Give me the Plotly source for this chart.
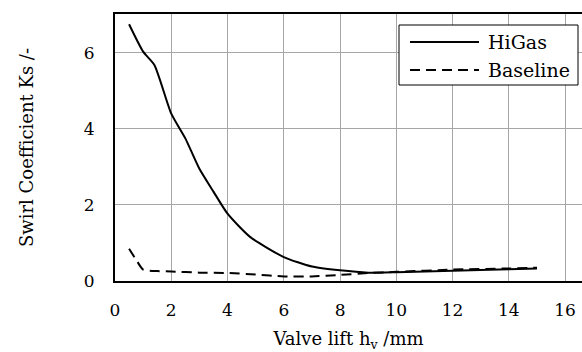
import plotly.graph_objects as go

higas_x = [0.5, 1.0, 1.4, 2.0, 2.5, 3.0, 3.5, 4.0, 4.8, 6.0, 7.0, 8.0, 9.0, 10.0, 12.0, 14.0, 15.0]
higas_y = [6.75, 6.03, 5.68, 4.4, 3.75, 2.95, 2.35, 1.77, 1.16, 0.63, 0.38, 0.28, 0.22, 0.23, 0.27, 0.31, 0.33]

base_x = [0.5, 0.8, 1.0, 1.5, 2.0, 3.0, 4.0, 5.0, 6.0, 7.0, 8.0, 9.0, 10.0, 12.0, 14.0, 15.0]
base_y = [0.85, 0.5, 0.3, 0.26, 0.25, 0.22, 0.21, 0.17, 0.12, 0.12, 0.16, 0.21, 0.24, 0.3, 0.33, 0.35]

series_names = ["HiGas", "Baseline"]
x_ticks = [0, 2, 4, 6, 8, 10, 12, 14, 16]
y_ticks = [0, 2, 4, 6]

FONT = "DejaVu Serif"
W, H = 582, 352
ML, MR, MT, MB = 115, 0, 14, 71
PW, PH = W - ML - MR, H - MT - MB

def px(x):
    return (x - ML) / PW

def py(y):
    return (H - MB - y) / PH

styles = [dict(color="black", width=2),
          dict(color="black", width=2, dash="10px,6px")]

fig = go.Figure()
for name, xs, ys, st in zip(series_names, [higas_x, base_x], [higas_y, base_y], styles):
    fig.add_trace(go.Scatter(x=xs, y=ys, mode="lines", name=name, showlegend=False,
                             line=dict(shape="spline", smoothing=0.6, **st)))

# custom legend box (long line samples as in the reference)
fig.add_shape(type="rect", xref="paper", yref="paper",
              x0=px(399), x1=px(578), y0=py(85), y1=py(25),
              line=dict(color="black", width=1), fillcolor="white", layer="above")
for i, (name, st) in enumerate(zip(series_names, styles)):
    yy = py(42 + i * 28)
    fig.add_shape(type="line", xref="paper", yref="paper",
                  x0=px(410), x1=px(479), y0=yy, y1=yy, line=st, layer="above")
    fig.add_annotation(xref="paper", yref="paper", x=px(486), y=yy, text=name,
                       showarrow=False, xanchor="left", yanchor="middle",
                       font=dict(family=FONT, size=19, color="black"))

fig.update_layout(
    width=W, height=H,
    margin=dict(l=ML, r=MR, t=MT, b=MB),
    paper_bgcolor="white", plot_bgcolor="white",
    font=dict(family=FONT, size=17, color="black"),
    showlegend=False,
    xaxis=dict(range=[0, 16.6], tickvals=x_ticks, showgrid=True, gridcolor="#a6a6a6", gridwidth=1,
               showline=True, linecolor="black", linewidth=2, mirror=True, zeroline=False,
               ticks="outside", ticklen=13, tickcolor="rgba(0,0,0,0)",
               tickfont=dict(family=FONT, size=17),
               title=dict(text="Valve lift h<sub>v</sub> /mm", standoff=15, font=dict(family=FONT, size=18))),
    yaxis=dict(range=[0, 7.02], tickvals=y_ticks, showgrid=True, gridcolor="#a6a6a6", gridwidth=1,
               showline=True, linecolor="black", linewidth=2, zeroline=False,
               ticks="outside", ticklen=15, tickcolor="rgba(0,0,0,0)",
               tickfont=dict(family=FONT, size=17),
               title=dict(text="Swirl Coefficient Ks /-", standoff=45, font=dict(family=FONT, size=18))),
)

fig.write_html("out.html")
